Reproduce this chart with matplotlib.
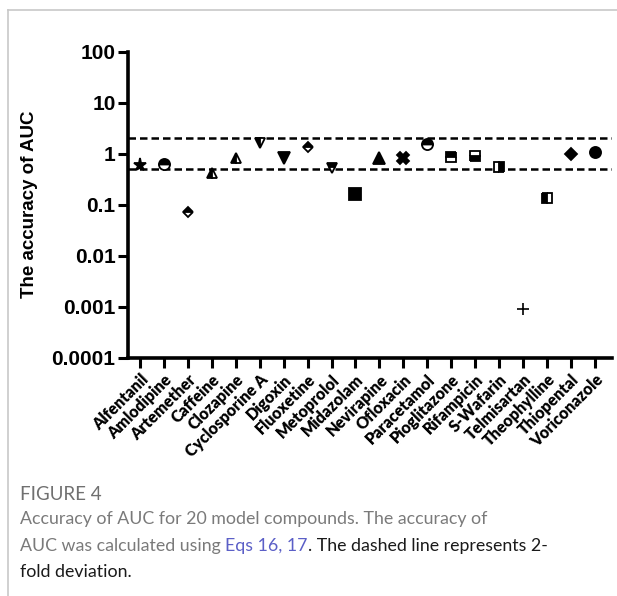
import matplotlib
matplotlib.use("Agg")
import matplotlib.pyplot as plt
from matplotlib.lines import Line2D

compounds = ['Alfentanil', 'Amlodipine', 'Artemether', 'Caffeine', 'Clozapine',
             'Cyclosporine A', 'Digoxin', 'Fluoxetine', 'Metoprolol', 'Midazolam',
             'Nevirapine', 'Ofloxacin', 'Paracetamol', 'Pioglitazone', 'Rifampicin',
             'S-Wafarin', 'Telmisartan', 'Theophylline', 'Thiopental', 'Voriconazole']
accuracy = [0.60, 0.62, 0.071, 0.42, 0.84, 1.64, 0.84, 1.35, 0.52, 0.162,
            0.84, 0.84, 1.57, 0.87, 0.91, 0.54, 0.00089, 0.137, 0.99, 1.1]
markers = ['*', 'o', 'D', '^', '^', 'v', 'v', 'D', 'v', 's',
           '^', 'X', 'o', 's', 's', 's', '+', 's', 'D', 'o']
fills = ['full', 'top', 'top', 'left', 'left', 'left', 'full', 'top', 'top', 'full',
         'full', 'full', 'top', 'top', 'bottom', 'right', 'full', 'left', 'full', 'full']
sizes = [9.5, 8, 5.5, 7.5, 7.5, 7.5, 8, 5.5, 7.5, 8, 8, 9, 8, 7, 7, 7, 8, 7, 6.5, 8]
fold_lines = [2, 0.5]
yticks = [0.0001, 0.001, 0.01, 0.1, 1, 10, 100]
ytick_labels = ['0.0001', '0.001', '0.01', '0.1', '1', '10', '100']

fig = plt.figure(figsize=(6.17, 5.96), dpi=100)
ax = fig.add_axes([0.2075, 0.400, 0.7845, 0.513])

for i, (v, m, f, s) in enumerate(zip(accuracy, markers, fills, sizes)):
    ax.plot(i, v, marker=m, fillstyle=f, markersize=s, color='black',
            markerfacecoloralt='white', markeredgecolor='black',
            markeredgewidth=1.3 if m != '+' else 1.2, linestyle='none', zorder=3)

for y in fold_lines:
    ax.axhline(y, color='black', lw=1.8, ls=(0, (3, 1.6)), zorder=2)

ax.set_yscale('log')
ax.set_ylim(1e-4, 100)
ax.set_xlim(-0.5, 19.72)
ax.set_yticks(yticks)
ax.set_yticklabels(ytick_labels, fontsize=15, fontweight='bold', family='Liberation Sans')
ax.yaxis.set_minor_locator(matplotlib.ticker.NullLocator())
ax.set_xticks(range(len(compounds)))
ax.set_xticklabels(compounds, rotation=45, ha='right', rotation_mode='anchor',
                   fontsize=11.5, fontweight='heavy', family='Lato')
ax.tick_params(axis='both', width=2.2, length=7, direction='out')
ax.tick_params(axis='y', pad=2)
ax.tick_params(axis='x', pad=3)
ax.set_ylabel('The accuracy of AUC', fontsize=13.5, fontweight='bold',
              family='Liberation Sans', labelpad=10)
for side in ['top', 'right']:
    ax.spines[side].set_visible(False)
for side in ['left', 'bottom']:
    ax.spines[side].set_linewidth(2.6)

# frame lines of the figure panel
fig.add_artist(Line2D([8 / 617, 1], [1 - 9.5 / 596] * 2, color='#c8c8c8', lw=1.2))
fig.add_artist(Line2D([8 / 617] * 2, [0, 1 - 9.5 / 596], color='#c8c8c8', lw=1.2))

# caption
cap = dict(family='Lato', fontsize=12.8, va='center')
fig.text(20 / 617, 1 - 494 / 596, 'FIGURE 4', color='#707070', fontsize=13.5, family='Lato',
         va='center')
fig.text(20 / 617, 1 - 519 / 596, 'Accuracy of AUC for 20 model compounds. The accuracy of',
         color='#7a7a7a', **cap)
renderer = fig.canvas.get_renderer()
x = 20 / 617
parts = [('AUC was calculated using ', '#7a7a7a'), ('Eqs 16, 17', '#5b5fc7'),
         ('. The dashed line represents 2-', '#1a1a1a')]
for txt, col in parts:
    t = fig.text(x, 1 - 546 / 596, txt, color=col, **cap)
    bb = t.get_window_extent(renderer)
    x += bb.width / fig.bbox.width
fig.text(20 / 617, 1 - 572 / 596, 'fold deviation.', color='#1a1a1a', **cap)

fig.savefig('out.png', dpi=100)
